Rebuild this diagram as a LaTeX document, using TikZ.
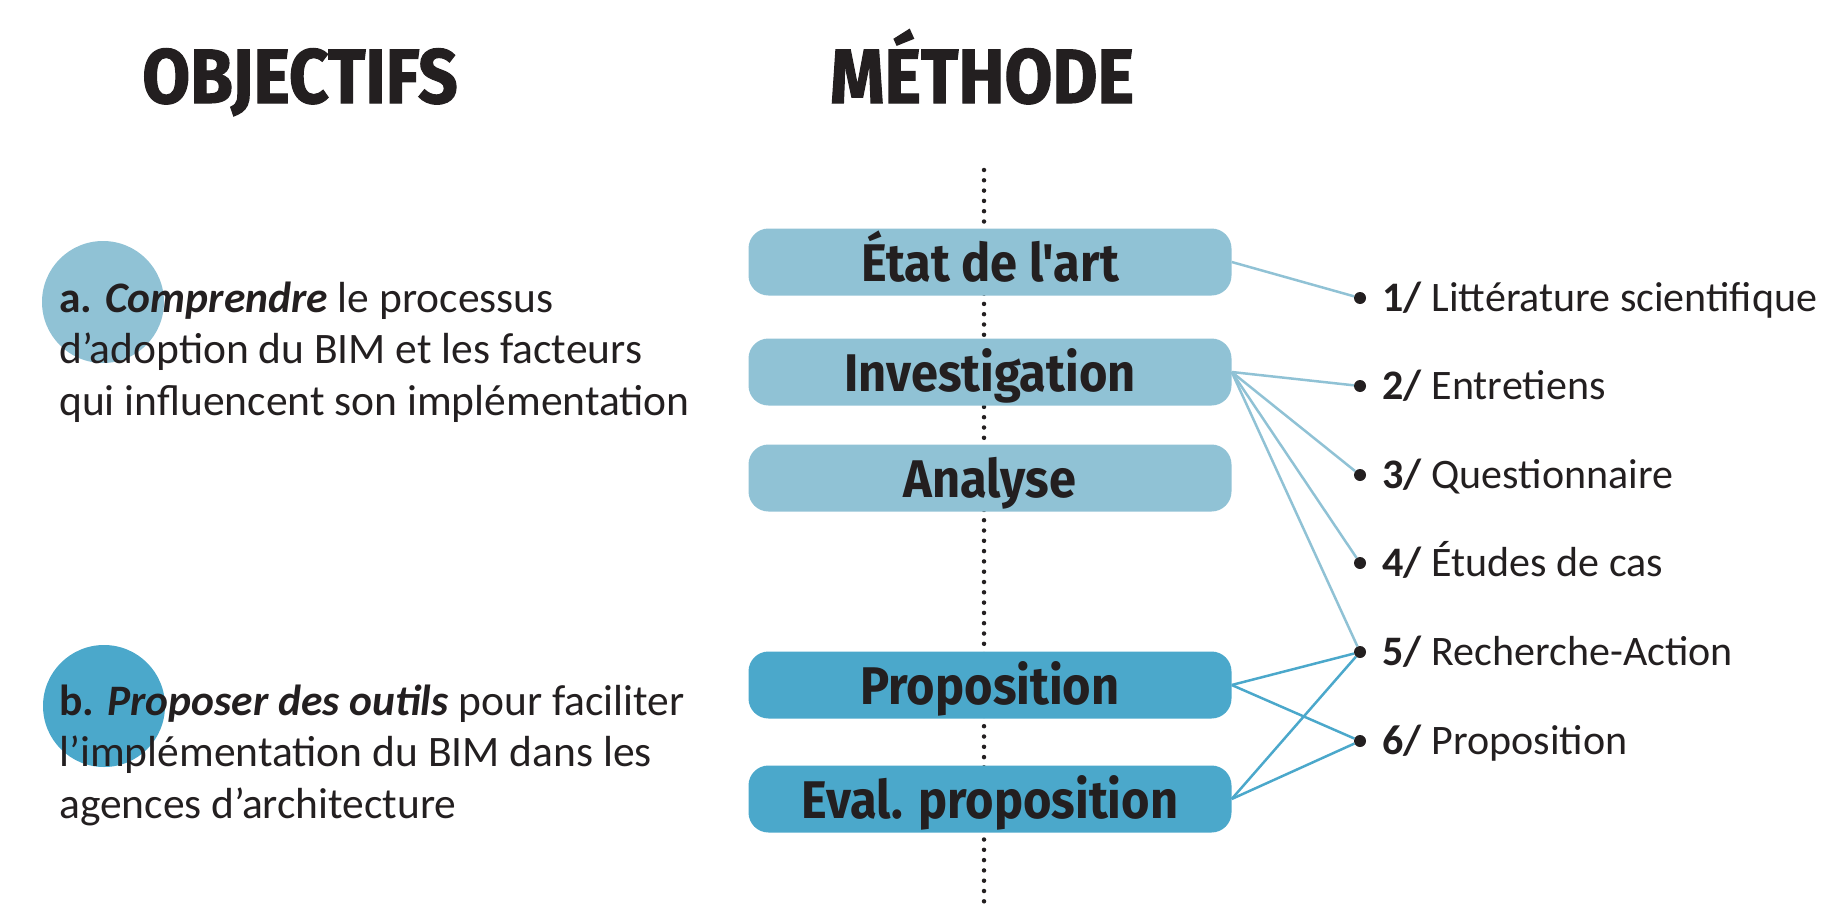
\documentclass[tikz,border=0pt]{standalone}
\usepackage{fontspec}
\usepackage{xcolor}
\usepackage{tikz}
\usetikzlibrary{positioning}
\setmainfont{Carlito}
\newfontfamily\titrefont{Fira Sans}[FakeStretch=0.9, BoldFeatures={FakeBold=1.5}]
\newfontfamily\etapefont{Fira Sans}[FakeStretch=0.92]
\definecolor{bimclair}{RGB}{144, 194, 213}
\definecolor{bimfonce}{RGB}{75, 168, 203}
\definecolor{encre}{RGB}{35, 31, 32}

\tikzset{
  titre/.style={text=encre, inner sep=0pt, text height=50pt, text depth=0pt,
                font=\titrefont\bfseries\fontsize{77}{77}\selectfont},
  etape/.style={minimum width=483pt, minimum height=67pt, rounded corners=20pt,
                inner sep=0pt, text=encre, text height=38pt, text depth=0pt,
                font=\etapefont\bfseries\fontsize{53}{53}\selectfont},
  puce/.style={circle, fill=encre, inner sep=0pt, minimum size=12pt},
  technique/.style={text=encre, inner sep=0pt, text height=27pt, text depth=0pt,
                    font=\fontsize{42}{42}\selectfont},
  objectif/.style={text=encre, align=left, inner sep=0pt, anchor=base west,
                   font=\fontsize{43.5}{51.5}\selectfont},
  lien/.style={line width=2.5pt},
  pointille/.style={encre, line width=4.5pt, line cap=round, dash pattern=on 0pt off 10.3pt}
}

\begin{document}
\begin{tikzpicture}[x=1pt, y=-1pt]
  \useasboundingbox (0,0) rectangle (1833,910);

  % titres
  \node[titre] (objectifs) at (300,78) {OBJECTIFS};
  \node[titre] (methode) at (982,78) {MÉTHODE};

  % objectifs (la base du noeud est celle de la derniere ligne)
  \fill[bimclair] (103,302) circle (61);
  \fill[bimfonce] (104,706) circle (61);
  \node[objectif] (obja) at (59,415) {\textbf{a.} \textbf{\textit{Comprendre}} le processus\\
    d’adoption du BIM et les facteurs\\qui influencent son implémentation};
  \node[objectif] (objb) at (59,818) {\textbf{b.} \textbf{\textit{Proposer des outils}} pour faciliter\\
    l’implémentation du BIM dans les\\agences d’architecture};

  % axe
  \coordinate (axehaut) at (984,170);
  \coordinate (axebas) at (984,906);
  \draw[pointille] (axehaut) -- (axebas);

  % etapes
  \node[etape, fill=bimclair] (etat) at (990,262) {État de l'art};
  \node[etape, fill=bimclair] (investigation) at (990,372) {Investigation};
  \node[etape, fill=bimclair] (analyse) at (990,478) {Analyse};
  \node[etape, fill=bimfonce] (proposition) at (990,685) {Proposition};
  \node[etape, fill=bimfonce] (evaluation) at (990,799) {Eval. proposition};

  % techniques
  \foreach \n/\y/\txt in {1/298/Littérature scientifique, 2/386/Entretiens,
      3/475/Questionnaire, 4/563/Études de cas, 5/652/Recherche-Action, 6/741/Proposition} {
    \node[puce] (m\n) at (1360,\y) {};
    \node[technique, right=16pt of m\n] (t\n) {\textbf{\n/} \txt};
  }

  % liens
  \draw[lien, bimclair] (etat.east) -- (m1);
  \foreach \n in {2,...,5}
    \draw[lien, bimclair] (investigation.east) -- (m\n);
  \foreach \n in {5,6} {
    \draw[lien, bimfonce] (proposition.east) -- (m\n);
    \draw[lien, bimfonce] (evaluation.east) -- (m\n);
  }
\end{tikzpicture}
\end{document}
